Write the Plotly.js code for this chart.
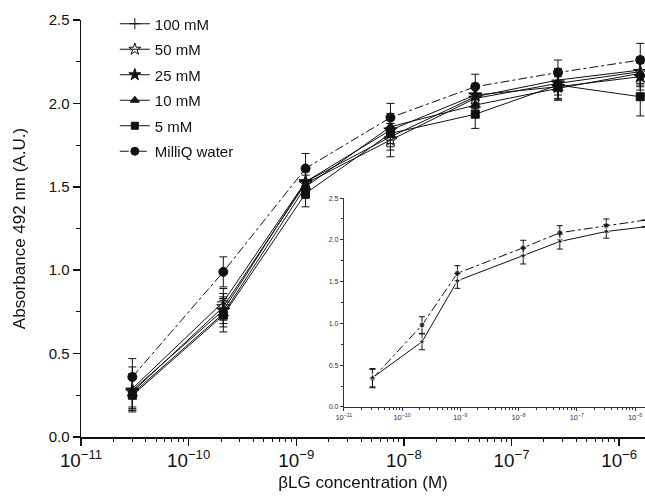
<!DOCTYPE html>
<html>
<head>
<meta charset="utf-8">
<script src="https://cdn.plot.ly/plotly-3.0.1.min.js"></script>
<style>html,body{margin:0;padding:0;background:#fff;}#chart{width:645px;height:496px;}</style>
</head>
<body>
<div id="chart"></div>
<script>
// Main plot data (concentration in M, absorbance at 492 nm)
const conc = [3.0e-11, 2.1e-10, 1.22e-9, 7.5e-9, 4.6e-8, 2.7e-7, 1.57e-6];
const seriesNames = ["100 mM", "50 mM", "25 mM", "10 mM", "5 mM", "MilliQ water"];
const abs100 = [0.29, 0.81, 1.53, 1.80, 2.04, 2.14, 2.20];
const abs50  = [0.27, 0.78, 1.52, 1.78, 2.03, 2.12, 2.19];
const abs25  = [0.28, 0.76, 1.53, 1.84, 2.05, 2.10, 2.16];
const abs10  = [0.26, 0.74, 1.50, 1.86, 1.99, 2.09, 2.18];
const abs5   = [0.25, 0.73, 1.46, 1.82, 1.935, 2.11, 2.04];
const absMQ  = [0.36, 0.99, 1.61, 1.915, 2.10, 2.185, 2.26];
const err100 = [0.13, 0.08, 0.07, 0.08, 0.07, 0.07, 0.08];
const err50  = [0.10, 0.08, 0.07, 0.10, 0.07, 0.07, 0.08];
const err25  = [0.10, 0.08, 0.07, 0.08, 0.07, 0.07, 0.08];
const err10  = [0.10, 0.08, 0.07, 0.08, 0.07, 0.07, 0.08];
const err5   = [0.10, 0.10, 0.08, 0.08, 0.085, 0.09, 0.115];
const errMQ  = [0.11, 0.09, 0.09, 0.085, 0.075, 0.075, 0.10];

// Inset data
const insetConc = [3.1e-11, 2.2e-10, 8.9e-10, 1.2e-8, 5.1e-8, 3.2e-7, 1.45e-6];
const insetMQ = [0.34, 0.98, 1.60, 1.905, 2.085, 2.17, 2.235];
const insetMQerr = [0.11, 0.10, 0.09, 0.09, 0.085, 0.08, 0];
const insetSalt = [0.35, 0.78, 1.51, 1.806, 1.98, 2.10, 2.155];
const insetSaltErr = [0.11, 0.095, 0.09, 0.095, 0.09, 0.08, 0];

const decadeExps = [-11, -10, -9, -8, -7, -6];

const ink = '#111';
const FONT = 'Liberation Sans, Arial, sans-serif';

function markerFor(symbol, size) {
  return {symbol: symbol, size: size, color: ink, line: {color: ink, width: 1}};
}
function sizeFor(symbol) {
  return symbol === 'square' ? 8 : (symbol.indexOf('star') === 0 ? 10 : 9);
}

function mainTrace(name, y, err, symbol, dash) {
  return {
    x: conc, y: y, name: name, type: 'scatter', mode: 'lines+markers', showlegend: false,
    line: {color: ink, width: 1, dash: dash},
    marker: markerFor(symbol, sizeFor(symbol)),
    error_y: {type: 'data', array: err, visible: true, color: ink, thickness: 1, width: 4},
    cliponaxis: false, xaxis: 'x', yaxis: 'y'
  };
}
function legendTrace(name, symbol, dash, group) {
  return {
    x: [null], y: [null], name: name, type: 'scatter', mode: 'lines+markers',
    legendgroup: group, showlegend: true,
    line: {color: ink, width: 1, dash: dash},
    marker: markerFor(symbol, sizeFor(symbol) - 1),
    xaxis: 'x', yaxis: 'y'
  };
}

const symbols = ['cross-thin-open', 'star-open', 'star', 'triangle-up', 'square', 'circle'];
const dashes = ['solid', 'solid', 'solid', 'solid', 'solid', 'dashdot'];
const ys = [abs100, abs50, abs25, abs10, abs5, absMQ];
const errs = [err100, err50, err25, err10, err5, errMQ];

const traces = [];
for (let i = 0; i < seriesNames.length; i++) {
  traces.push(mainTrace(seriesNames[i], ys[i], errs[i], symbols[i], dashes[i]));
}
for (let i = 0; i < seriesNames.length; i++) {
  traces.push(legendTrace(seriesNames[i], symbols[i], dashes[i], 'g' + i));
}
traces.push({
  x: insetConc, y: insetMQ, type: 'scatter', mode: 'lines+markers', showlegend: false,
  line: {color: ink, width: 1, dash: 'dashdot'},
  marker: {symbol: 'circle', size: [6,6,6,6,6,6,0], color: ink},
  error_y: {type: 'data', array: insetMQerr, visible: true, color: ink, thickness: 1, width: 3},
  xaxis: 'x2', yaxis: 'y2'
});
traces.push({
  x: insetConc, y: insetSalt, type: 'scatter', mode: 'lines+markers', showlegend: false,
  line: {color: ink, width: 1},
  marker: {symbol: 'star', size: [6,6,6,6,6,6,0], color: ink},
  error_y: {type: 'data', array: insetSaltErr, visible: true, color: ink, thickness: 1, width: 3},
  xaxis: 'x2', yaxis: 'y2'
});
// transparent copies of the data on the extra axes that carry the minor ticks
traces.push({x: conc, y: absMQ, type: 'scatter', mode: 'markers', opacity: 0, showlegend: false,
             hoverinfo: 'skip', xaxis: 'x3', yaxis: 'y'});
traces.push({x: insetConc, y: insetMQ, type: 'scatter', mode: 'markers', opacity: 0, showlegend: false,
             hoverinfo: 'skip', xaxis: 'x4', yaxis: 'y2'});

// minor tick positions: 2..9 within each decade
const minorVals = [];
decadeExps.forEach(function (d) {
  for (let k = 2; k <= 9; k++) minorVals.push(k * Math.pow(10, d));
});

const layout = {
  width: 645, height: 496,
  margin: {l: 81, r: 0, t: 20, b: 59},
  paper_bgcolor: '#fff', plot_bgcolor: 'rgba(0,0,0,0)',
  font: {family: FONT, color: ink, size: 15},
  showlegend: true,
  legend: {x: 0.06, y: 1.03, xanchor: 'left', yanchor: 'top', bgcolor: 'rgba(0,0,0,0)',
           font: {size: 15, family: FONT}, traceorder: 'grouped', tracegroupgap: 3},
  xaxis: {
    type: 'log', range: [-11, -5.76], domain: [0, 1],
    showgrid: false, zeroline: false, showline: true, linecolor: ink, linewidth: 1.5,
    ticks: 'outside', ticklen: 7, tickwidth: 1.5, tickcolor: ink, dtick: 1,
    exponentformat: 'power', tickfont: {size: 15, family: FONT},
    title: {text: 'βLG concentration (M)', font: {size: 17, family: FONT}, standoff: 6},
    automargin: false, anchor: 'y'
  },
  xaxis3: {
    type: 'log', range: [-11, -5.76], domain: [0, 1], anchor: 'y', side: 'bottom',
    showgrid: false, zeroline: false, showline: false, showticklabels: false,
    tickmode: 'array', tickvals: minorVals,
    ticks: 'outside', ticklen: 4, tickwidth: 1, tickcolor: ink, automargin: false
  },
  yaxis: {
    range: [0, 2.5], domain: [0, 1],
    showgrid: false, zeroline: false, showline: true, linecolor: ink, linewidth: 1.5,
    ticks: 'outside', ticklen: 7, tickwidth: 1.5, tickcolor: ink, dtick: 0.5, tickformat: '.1f',
    tickfont: {size: 15, family: FONT},
    minor: {ticks: 'outside', ticklen: 4, tickwidth: 1, tickcolor: ink, dtick: 0.25},
    title: {text: 'Absorbance 492 nm (A.U.)', font: {size: 17, family: FONT}, standoff: 18},
    automargin: false, anchor: 'x'
  },
  xaxis2: {
    type: 'log', range: [-11, -5.83], domain: [0.466, 1],
    showgrid: false, zeroline: false, showline: true, linecolor: '#333', linewidth: 1,
    ticks: 'outside', ticklen: 3, tickwidth: 1, tickcolor: '#333', dtick: 1,
    exponentformat: 'power', tickfont: {size: 6, family: FONT, color: '#333'},
    anchor: 'y2', automargin: false
  },
  xaxis4: {
    type: 'log', range: [-11, -5.83], domain: [0.466, 1], anchor: 'y2', side: 'bottom',
    showgrid: false, zeroline: false, showline: false, showticklabels: false,
    tickmode: 'array', tickvals: minorVals,
    ticks: 'outside', ticklen: 2, tickwidth: 1, tickcolor: '#333', automargin: false
  },
  yaxis2: {
    range: [0, 2.5], domain: [0.072, 0.573],
    showgrid: false, zeroline: false, showline: true, linecolor: '#333', linewidth: 1,
    ticks: 'outside', ticklen: 3, tickwidth: 1, tickcolor: '#333', dtick: 0.5, tickformat: '.1f',
    tickfont: {size: 7, family: FONT, color: '#333'},
    minor: {ticks: 'outside', ticklen: 2, tickwidth: 1, tickcolor: '#333', dtick: 0.25},
    anchor: 'x2', automargin: false
  }
};

Plotly.newPlot('chart', traces, layout, {displayModeBar: false, staticPlot: true});
</script>
</body>
</html>
